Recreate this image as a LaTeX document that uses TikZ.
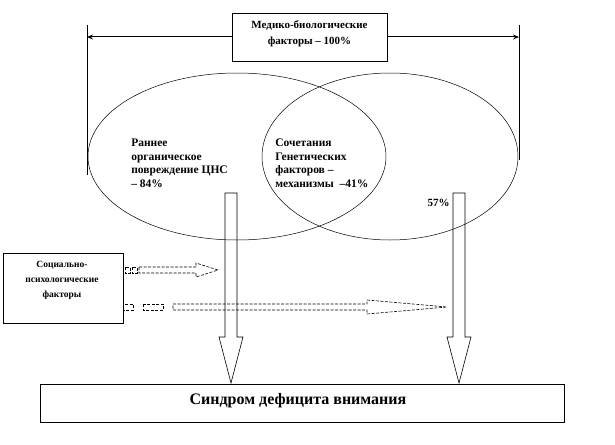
\documentclass[tikz,border=0pt]{standalone}
\usepackage{fontspec}
\setmainfont{Liberation Serif}
\usetikzlibrary{shapes.geometric,arrows.meta}
\begin{document}
\begin{tikzpicture}[x=1pt,y=-1pt,line width=0.6pt,
  lbl/.style={font=\bfseries\fontsize{11.5}{13.7}\selectfont,align=left,inner sep=0},
  ctr/.style={font=\bfseries\fontsize{10}{14}\selectfont,align=center,inner sep=0},
  oval/.style={draw,ellipse,inner sep=0,line width=0.5pt},
  boxx/.style={draw,fill=white,inner sep=0,line width=0.6pt},
  blockarrow/.style={draw,line width=0.6pt},
  stripearrow/.style={draw,line width=0.6pt,dash pattern=on 3pt off 1.5pt}]
\useasboundingbox (0,0) rectangle (615,444);

% ellipses
\node[oval,minimum width=298pt,minimum height=167pt] (e1) at (237,156.5) {};
\node[oval,minimum width=256pt,minimum height=167pt] (e2) at (390,156.5) {};

% bracket lines and double arrow
\coordinate (l1) at (87,25); \coordinate (l2) at (87,175);
\coordinate (r1) at (519,25); \coordinate (r2) at (519,160);
\draw (l1) -- (l2);
\draw (r1) -- (r2);
\coordinate (a1) at (87,37); \coordinate (a2) at (519,37);
\draw[line width=1pt,{Stealth[length=6pt,width=5pt]}-{Stealth[length=6pt,width=5pt]}] (a1) -- (a2);

% top box
\node[boxx,minimum width=155pt,minimum height=48pt] (top) at (309.5,37) {};
\node[ctr,font=\bfseries\fontsize{11}{16}\selectfont] (toptext) at (309.5,34) {Медико-биологические\\факторы – 100\%};

% texts in ellipses
\node[lbl,anchor=north west] (t1) at (131,138.5) {Раннее\\органическое\\повреждение ЦНС\\– 84\%};
\node[lbl,anchor=north west] (t2) at (275,138.5) {Сочетания\\Генетических\\факторов –\\механизмы \ –41\%};
\node[lbl,anchor=east,font=\bfseries\fontsize{11}{13}\selectfont] (t3) at (450,203) {57\%};

% striped arrows (dashed)
\draw[stripearrow] (125,267) rectangle (130,273);
\draw[stripearrow] (132,267) rectangle (137,273);
\draw[stripearrow] (139,267) -- (196,267) -- (196,263) -- (218,270) -- (196,277) -- (196,273) -- (139,273) -- cycle;

\draw[stripearrow] (123,304) rectangle (133,310);
\draw[stripearrow] (143,304) rectangle (163,310);
\draw[stripearrow] (173,304) -- (367,304) -- (367,300) -- (447,307) -- (367,314) -- (367,310) -- (173,310) -- cycle;

% vertical block arrows
\draw[blockarrow] (225,193) -- (237,193) -- (237,337) -- (243,337) -- (231,383) -- (219,337) -- (225,337) -- cycle;
\draw[blockarrow] (453,193) -- (465,193) -- (465,337) -- (471,337) -- (459,383) -- (447,337) -- (453,337) -- cycle;

% social box
\node[boxx,minimum width=120pt,minimum height=70pt] (soc) at (63,288) {};
\node[ctr,font=\bfseries\fontsize{9.5}{15}\selectfont] (soctext) at (62,280) {Социально-\\психологические\\факторы};

% bottom box
\node[boxx,minimum width=524pt,minimum height=38pt] (syn) at (302,403) {};
\node[ctr,font=\bfseries\fontsize{16}{17}\selectfont] (syntext) at (298,401) {Синдром дефицита внимания};
\end{tikzpicture}
\end{document}
